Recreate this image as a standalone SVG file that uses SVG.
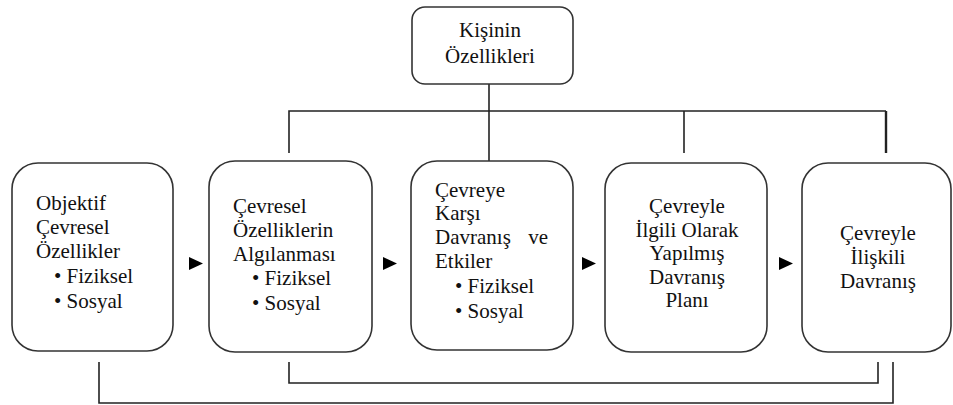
<svg xmlns="http://www.w3.org/2000/svg" width="953" height="405" viewBox="0 0 953 405">
<style>
.box{fill:#fff;stroke:#333;stroke-width:1.6}
.ln{fill:none;stroke:#222;stroke-width:1.6}
.t{font-size:21px;fill:#111}
.c{text-anchor:middle}
.arr{fill:#000}
</style>
<rect width="953" height="405" fill="#fff"/>
<g id="connectors">
<path class="ln" d="M489 84 V161"/>
<path class="ln" d="M289 153 V111 H886"/>
<path class="ln" d="M684 111 V153"/>
<path class="ln" d="M886 111 V153" style="stroke-width:2.4"/>
<path class="ln" d="M289 362 V383 H878 V362"/>
<path class="ln" d="M99 362 V403 H893 V362"/>
<polygon class="arr" points="189,257 203,263.5 189,270"/>
<polygon class="arr" points="383,257 397,263.5 383,270"/>
<polygon class="arr" points="582,257 596,263.5 582,270"/>
<polygon class="arr" points="779,257 793,263.5 779,270"/>
</g>
<g font-family="Liberation Serif, DejaVu Serif, serif">
<g id="kisinin">
<rect class="box" x="412" y="7" width="161" height="77" rx="13"/>
<text class="t c" x="490" y="37">Kişinin</text>
<text class="t c" x="490" y="63">Özellikleri</text>
</g>
<g id="objektif">
<rect class="box" x="12" y="163" width="161" height="188" rx="26"/>
<text class="t" x="36" y="210">Objektif</text>
<text class="t" x="36" y="234">Çevresel</text>
<text class="t" x="36" y="258">Özellikler</text>
<text class="t" x="54" y="283">• Fiziksel</text>
<text class="t" x="54" y="308">• Sosyal</text>
</g>
<g id="algilanmasi">
<rect class="box" x="209" y="161" width="163" height="191" rx="26"/>
<text class="t" x="233" y="213">Çevresel</text>
<text class="t" x="233" y="237">Özelliklerin</text>
<text class="t" x="233" y="261">Algılanması</text>
<text class="t" x="252" y="285">• Fiziksel</text>
<text class="t" x="252" y="310">• Sosyal</text>
</g>
<g id="davranis-etkiler">
<rect class="box" x="411" y="161" width="162" height="189" rx="26"/>
<text class="t" x="435" y="197">Çevreye</text>
<text class="t" x="435" y="220">Karşı</text>
<text class="t" x="435" y="244">Davranış</text>
<text class="t" x="548" y="244" text-anchor="end">ve</text>
<text class="t" x="435" y="268">Etkiler</text>
<text class="t" x="455" y="293">• Fiziksel</text>
<text class="t" x="455" y="318">• Sosyal</text>
</g>
<g id="davranis-plani">
<rect class="box" x="605" y="163" width="162" height="189" rx="26"/>
<text class="t c" x="687" y="213">Çevreyle</text>
<text class="t c" x="687" y="237">İlgili Olarak</text>
<text class="t c" x="687" y="260">Yapılmış</text>
<text class="t c" x="687" y="284">Davranış</text>
<text class="t c" x="687" y="307">Planı</text>
</g>
<g id="iliskili-davranis">
<rect class="box" x="802" y="163" width="149" height="189" rx="26"/>
<text class="t c" x="878" y="240">Çevreyle</text>
<text class="t c" x="878" y="264">İlişkili</text>
<text class="t c" x="878" y="288">Davranış</text>
</g>
</g>
</svg>
